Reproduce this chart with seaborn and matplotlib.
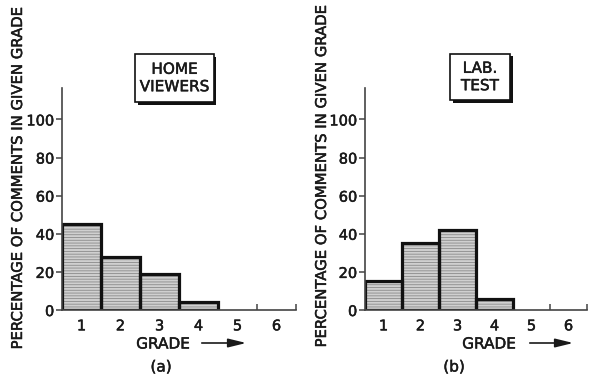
import matplotlib
matplotlib.use("Agg")
import matplotlib.pyplot as plt
import matplotlib.patches as mpatches
import matplotlib.patheffects as pe
from matplotlib.ticker import FixedLocator
import numpy as np
import pandas as pd
import seaborn as sns

# Percentage of comments falling in each grade
grades = ["1", "2", "3", "4", "5", "6"]
home_viewers = [45, 28, 19, 4, 0, 0]
lab_test = [15, 35, 42, 6, 0, 0]

panel_titles = ["HOME\nVIEWERS", "LAB.\nTEST"]
panel_tags = ["(a)", "(b)"]
y_ticks = [0, 20, 40, 60, 80, 100]
y_label = "PERCENTAGE OF COMMENTS IN GIVEN GRADE"
x_label = "GRADE"

sns.set_theme(style="white")
plt.rcParams["font.family"] = ["DejaVu Sans"]
plt.rcParams["hatch.linewidth"] = 0.6

INK = "#1a1a1a"
HEAVY = [pe.withStroke(linewidth=0.35, foreground=INK)]
W, H = 589, 379
fig = plt.figure(figsize=(W / 100, H / 100), dpi=100)
fig.patch.set_facecolor("white")


def px_box(x0, y_top, x1, y_bot):
    return [x0 / W, 1 - y_bot / H, (x1 - x0) / W, (y_bot - y_top) / H]


axes = [
    fig.add_axes(px_box(62, 88, 296, 310)),
    fig.add_axes(px_box(365, 88, 587, 310)),
]

datasets = [home_viewers, lab_test]

for ax, values in zip(axes, datasets):
    df = pd.DataFrame({"grade": grades, "pct": values})

    # shaded fill with horizontal ruling
    sns.barplot(data=df, x="grade", y="pct", ax=ax, width=1.0,
                color="#d0d0d0", edgecolor="#8a8a8a", linewidth=0,
                hatch="------", saturation=1, errorbar=None)
    n_fill = len(ax.patches)
    # heavy black outlines on top
    sns.barplot(data=df, x="grade", y="pct", ax=ax, width=1.0,
                fill=False, edgecolor="#111111", linewidth=2.3,
                errorbar=None)
    for p in ax.patches[n_fill:]:
        if p.get_height() == 0:
            p.set_linewidth(0)
        p.set_joinstyle("miter")
    for p in ax.patches[:n_fill]:
        p.set_facecolor("#d0d0d0")

    ax.set_xlim(-0.5, len(grades) - 0.5)
    ax.set_ylim(0, 116.5)
    ax.set_yticks(y_ticks)
    ax.set_yticklabels([str(t) for t in y_ticks])
    ax.xaxis.set_minor_locator(FixedLocator(np.arange(0.5, len(grades), 1.0)))

    ax.tick_params(axis="y", which="major", direction="out", length=4,
                   width=1.1, color="#444444", pad=1.5, labelsize=10.5,
                   labelcolor=INK, left=True)
    ax.tick_params(axis="x", which="major", length=0, pad=6,
                   labelsize=10.5, labelcolor=INK, bottom=True)
    ax.tick_params(axis="x", which="minor", direction="in", length=4,
                   width=1.1, color="#444444", bottom=True)
    for lbl in ax.get_xticklabels() + ax.get_yticklabels():
        lbl.set_path_effects(HEAVY)

    for side in ("top", "right"):
        ax.spines[side].set_visible(False)
    for side in ("left", "bottom"):
        ax.spines[side].set_color("#444444")
        ax.spines[side].set_linewidth(1.2)

    ax.set_xlabel("")
    ax.set_ylabel(y_label, fontsize=10.7, color=INK, path_effects=HEAVY)
    ax.patch.set_alpha(0)

axes[0].yaxis.set_label_coords((25 - 62) / 234, (310 - 178) / 222)
axes[1].yaxis.set_label_coords((329 - 365) / 222, (310 - 176) / 222)


def boxed_title(x0, y0, x1, y1, text):
    # drop shadow first, then the framed white box
    fig.patches.append(mpatches.Rectangle(
        ((x0 + 2.5) / W, 1 - (y1 + 2.5) / H), (x1 - x0) / W, (y1 - y0) / H,
        transform=fig.transFigure, facecolor="#111111", edgecolor="none"))
    fig.patches.append(mpatches.Rectangle(
        (x0 / W, 1 - y1 / H), (x1 - x0) / W, (y1 - y0) / H,
        transform=fig.transFigure, facecolor="white", edgecolor="#111111",
        linewidth=1.2))
    fig.text((x0 + x1) / 2 / W, 1 - (y0 + y1) / 2 / H, text, ha="center",
             va="center", fontsize=11, color=INK, linespacing=1.2,
             path_effects=HEAVY)


boxed_title(135, 54, 214, 102, panel_titles[0])
boxed_title(450, 54, 510, 100, panel_titles[1])

# axis caption with arrow and panel tags
for gx, ax0, ax1 in [(163, 199, 249), (489, 527, 576)]:
    fig.text(gx / W, 1 - 344 / H, x_label, ha="center", va="center",
             fontsize=11, color=INK, path_effects=HEAVY)
    fig.add_artist(mpatches.FancyArrowPatch(
        (ax0 / W, 1 - 343 / H), (ax1 / W, 1 - 343 / H),
        transform=fig.transFigure,
        arrowstyle="-|>,head_length=0.9,head_width=0.22",
        color=INK, linewidth=1.2, mutation_scale=12))

fig.text(161 / W, 1 - 367 / H, panel_tags[0], ha="center", va="center",
         fontsize=11, color=INK, path_effects=HEAVY)
fig.text(454 / W, 1 - 367 / H, panel_tags[1], ha="center", va="center",
         fontsize=11, color=INK, path_effects=HEAVY)

fig.savefig("out.png", dpi=100, facecolor="white")
